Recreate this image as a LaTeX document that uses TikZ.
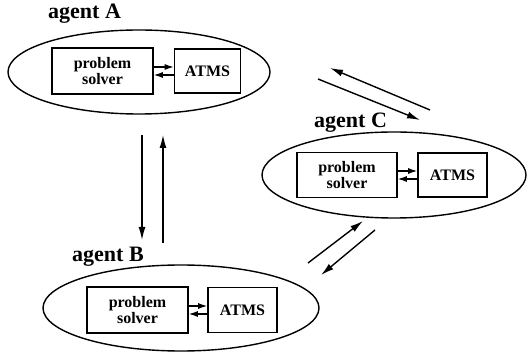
\documentclass[tikz,border=0pt]{standalone}
\usepackage{fontspec}
\setmainfont{Liberation Serif}
\usepackage{tikz}
\usetikzlibrary{arrows.meta, positioning, shapes.geometric}

\begin{document}
\begin{tikzpicture}[x=1pt, y=-1pt,
    agent/.style={draw, ellipse, line width=1.4pt, inner sep=0pt},
    box/.style={draw, line width=1.6pt, align=center, inner sep=0pt,
      font=\fontsize{16}{16}\selectfont\bfseries},
    albl/.style={anchor=base west, inner sep=0pt,
      font=\fontsize{22}{22}\selectfont\bfseries},
    link/.style={line width=1.2pt, -{Latex[length=9pt, width=6pt]}},
    msg/.style={line width=1.4pt, -{Latex[length=13pt, width=7pt]}}]
  \useasboundingbox (0,0) rectangle (527,352);

  % --- Agent A ---
  \node[agent, minimum width=262pt, minimum height=84pt] (A) at (139,72) {};
  \node[albl] (labA) at (48,19) {agent A};
  \node[box, minimum width=101pt, minimum height=46pt] (psA) at (102.5,71) {problem\\solver};
  \node[box, minimum width=66pt, minimum height=44pt] (tmA) at (207.5,71) {ATMS};
  \draw[link] ([yshift=4pt]psA.east) -- ([yshift=4pt]tmA.west);
  \draw[link] ([yshift=-4pt]tmA.west) -- ([yshift=-4pt]psA.east);

  % --- Agent B ---
  \node[agent, minimum width=276pt, minimum height=86pt] (B) at (181,308) {};
  \node[albl] (labB) at (72,262) {agent B};
  \node[box, minimum width=101pt, minimum height=46pt] (psB) at (137.5,310) {problem\\solver};
  \node[box, minimum width=69pt, minimum height=45pt] (tmB) at (242.5,310) {ATMS};
  \draw[link] ([yshift=4pt]psB.east) -- ([yshift=4pt]tmB.west);
  \draw[link] ([yshift=-4pt]tmB.west) -- ([yshift=-4pt]psB.east);

  % --- Agent C ---
  \node[agent, minimum width=264pt, minimum height=86pt] (C) at (394,175) {};
  \node[albl] (labC) at (314,128) {agent C};
  \node[box, minimum width=100pt, minimum height=45pt] (psC) at (347,175) {problem\\solver};
  \node[box, minimum width=69pt, minimum height=44pt] (tmC) at (452.5,175) {ATMS};
  \draw[link] ([yshift=4pt]psC.east) -- ([yshift=4pt]tmC.west);
  \draw[link] ([yshift=-4pt]tmC.west) -- ([yshift=-4pt]psC.east);

  % messages between agents
  \coordinate (ab1) at (142,135);
  \coordinate (ab2) at (142,240);
  \coordinate (ba1) at (163,243);
  \coordinate (ba2) at (163,135);
  \draw[msg] (ab1) -- (ab2);
  \draw[msg] (ba1) -- (ba2);

  \coordinate (ca1) at (430,110);
  \coordinate (ca2) at (330,68);
  \coordinate (ac1) at (318,79);
  \coordinate (ac2) at (420,120);
  \draw[msg] (ca1) -- (ca2);
  \draw[msg] (ac1) -- (ac2);

  \coordinate (bc1) at (308,263);
  \coordinate (bc2) at (363,221);
  \coordinate (cb1) at (375,230);
  \coordinate (cb2) at (321,275);
  \draw[msg] (bc1) -- (bc2);
  \draw[msg] (cb1) -- (cb2);
\end{tikzpicture}
\end{document}
